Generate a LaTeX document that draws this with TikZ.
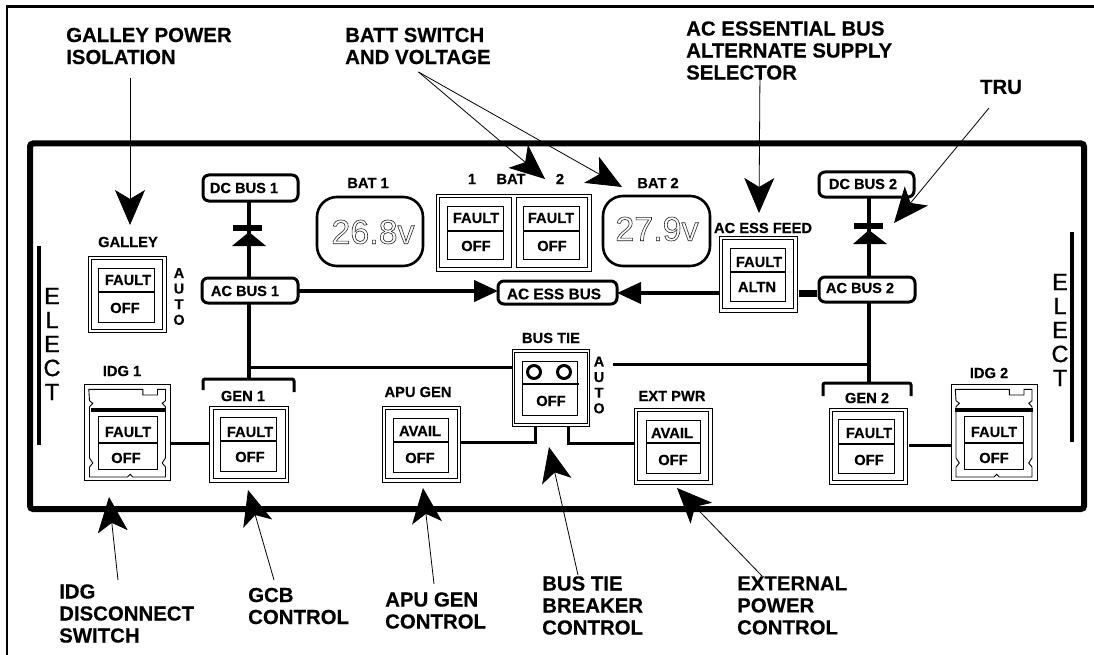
\documentclass[tikz,border=0pt]{standalone}
\usepackage{fontspec}
\setmainfont[BoldFeatures={FakeBold=0.35}]{Liberation Sans}
\newfontfamily\elfont[FakeBold=1]{Liberation Sans}
\usetikzlibrary{arrows.meta}
\newcommand{\fs}[2]{\fontsize{#1}{#2}\selectfont}
\newcommand{\outlinetext}[1]{\special{pdf:code q 1 Tr 0.6 w}#1\special{pdf:code Q}}
% \bx[style]{name}{x0}{y0}{x1}{y1}
\newcommand{\bx}[6][thinbox]{%
  \pgfmathsetmacro{\bxw}{#5-#3}\pgfmathsetmacro{\bxh}{#6-#4}%
  \pgfmathsetmacro{\bxcx}{(#3+#5)/2}\pgfmathsetmacro{\bxcy}{(#4+#6)/2}%
  \node[#1,minimum width=\bxw pt,minimum height=\bxh pt] (#2) at (\bxcx,\bxcy) {};}
\newcommand{\idgshape}[1]{%
  \draw[linesw,shift={(#1,0)}] (4.3,389.3) -- (58.3,389.3) -- (58.3,395) -- (73,395) -- (73,389.3) -- (81,389.3) -- (81,400.7) -- (77.7,403.3) -- (81,406.7) -- (81,458) -- (77.7,463) -- (81,467) -- (81,477) -- (48.3,477) -- (45.7,474.3) -- (43,477) -- (5,477) -- (5,467) -- (8.3,463) -- (5,458) -- (5,406.7) -- (8.3,403.3) -- (5,400.7) -- cycle;}
\tikzset{
  thinbox/.style={draw,rectangle,line width=0.9pt,inner sep=0pt,outer sep=0pt},
  linesw/.style={line width=0.9pt},
  bus/.style={draw,rectangle,rounded corners=6pt,line width=3pt,inner sep=0pt,outer sep=0pt,fill=white},
  disp/.style={draw,rectangle,rounded corners=20pt,line width=2.6pt,inner sep=0pt,outer sep=0pt},
  lbl/.style={font=\bfseries\fs{14.7}{16},inner sep=0pt},
  buslbl/.style={font=\bfseries\fs{14.6}{16},inner sep=0pt},
  note/.style={font=\bfseries\fs{20.4}{22},align=left,anchor=west,inner sep=0pt},
  vert/.style={align=center,inner sep=0pt},
  wire/.style={line width=3.6pt},
  wirethin/.style={line width=3pt},
  leader/.style={line width=0.8pt,-{Stealth[length=35pt,width=30pt,inset=9pt]}},
  busarrow/.style={line width=4pt,-{Triangle[length=24pt,width=21pt]}},
  dval/.style={font=\fs{34}{35},text=black!85,inner sep=0pt},
}
\begin{document}
\begin{tikzpicture}[x=1pt,y=-1pt]
\useasboundingbox (0,0) rectangle (1094,655);
\fill[white] (0,0) rectangle (1094,655);
% page border + panel
\draw[line width=2.6pt] (7,655) -- (7,6.5) -- (1094,6.5);
\draw[line width=6pt,rounded corners=3pt] (30,143.5) rectangle (1084,509);
% ELECT
\draw[line width=3.5pt] (39,246) coordinate (la) -- (39,445) coordinate (lb);
\draw[line width=3.5pt] (1072,232) coordinate (ra) -- (1072,442) coordinate (rb);
\node[vert,font=\elfont\fs{23.5}{24}] (electl) at (52,344) {E\\L\\E\\C\\T};
\node[vert,font=\elfont\fs{23.5}{24}] (electr) at (1060,330) {E\\L\\E\\C\\T};
% wire guides
\coordinate (vl) at (249,300);
\coordinate (vr) at (869,300);
% buses
\bx[bus]{dcbus1}{203}{175}{298}{201}
\bx[bus]{acbus1}{202}{278}{298}{303}
\bx[bus]{dcbus2}{819}{172}{914}{197}
\bx[bus]{acbus2}{819}{277}{915}{302}
\bx[bus]{acess}{498}{281}{617}{304}
\node[buslbl] (tdc1) at (244,188) {DC BUS 1};
\node[buslbl] (tac1) at (245,291) {AC BUS 1};
\node[buslbl] (tdc2) at (863,184) {DC BUS 2};
\node[buslbl] (tac2) at (860,288) {AC BUS 2};
\node[font=\bfseries\fs{15.4}{16},inner sep=0pt] (tess) at (554,294) {AC ESS BUS};
% switches -----------------------------------------------
% GALLEY
\bx{galo}{88}{256}{166}{332}\bx{gali}{91}{259}{162}{329}\bx{gall}{98}{268}{154}{322}
\draw[line width=1.4pt] (98,292) -- (155,292);
\node[lbl] (tgal) at (128,242) {GALLEY};
\node[lbl] at (128,280) {FAULT};
\node[lbl] at (125,308) {OFF};
\node[vert,font=\bfseries\fs{14.4}{15.6}] (agal) at (179,296.5) {A\\U\\T\\O};
% IDG 1
\bx{idgao}{84.5}{384}{170}{480}\idgshape{84.5}
\draw[line width=3.4pt] (91,410) -- (165,410);
\bx{idgal}{98}{416}{157}{469}
\draw[line width=1.4pt] (98,443) -- (157,443);
\node[lbl] (tidg1) at (122,371) {IDG 1};
\node[lbl] at (128,432) {FAULT};
\node[lbl] at (126,458) {OFF};
% GEN 1
\bx{genao}{209}{406}{288}{482}\bx{genai}{213}{409}{285}{478}\bx{genal}{220.5}{417}{276}{471}
\draw[line width=1.4pt] (220.5,441) -- (277,441);
\node[lbl] (tgen1) at (243,396) {GEN 1};
\node[lbl] at (250,432) {FAULT};
\node[lbl] at (250,457) {OFF};
% APU GEN
\bx{apuo}{382}{406}{460}{482}\bx{apui}{385}{409}{457}{478}\bx{apul}{393}{418}{448}{472}
\draw[line width=1.4pt] (393,442) -- (449,442);
\node[lbl] (tapu) at (418,392) {APU GEN};
\node[lbl] at (420,431) {AVAIL};
\node[lbl] at (420,458) {OFF};
% BUS TIE
\bx{tieo}{512}{349}{589}{426}\bx{tiei}{514.5}{352}{587}{423}\bx{tiel}{522}{361}{577}{415}
\draw[line width=1.4pt] (522,384) -- (579,384);
\node[draw,circle,line width=3pt,minimum size=13pt,inner sep=0pt] (ca) at (534,372) {};
\node[draw,circle,line width=3pt,minimum size=13pt,inner sep=0pt] (cb) at (564,372) {};
\node[lbl] (ttie) at (551,338) {BUS TIE};
\node[lbl] at (551,401) {OFF};
\node[vert,font=\bfseries\fs{14.4}{15.6}] (atie) at (599,385) {A\\U\\T\\O};
% EXT PWR
\bx{exto}{634}{408}{712}{484}\bx{exti}{637}{411}{708}{480}\bx{extl}{646}{420}{700}{473}
\draw[line width=1.4pt] (646,443) -- (701,443);
\node[lbl] (text) at (672,396) {EXT PWR};
\node[lbl] at (672,433) {AVAIL};
\node[lbl] at (673,460) {OFF};
% GEN 2
\bx{genbo}{829}{408}{907}{484}\bx{genbi}{832}{411}{903}{480}\bx{genbl}{838}{419}{894}{473}
\draw[line width=1.4pt] (838,444) -- (895,444);
\node[lbl] (tgen2) at (867,398) {GEN 2};
\node[lbl] at (869,433) {FAULT};
\node[lbl] at (869,460) {OFF};
% IDG 2
\bx{idgbo}{951}{384}{1037}{480}\idgshape{951}
\draw[line width=3.4pt] (955,410) -- (1033,410);
\bx{idgbl}{964}{416}{1023}{469}
\draw[line width=1.4pt] (964,443) -- (1023,443);
\node[lbl] (tidg2) at (989,373) {IDG 2};
\node[lbl] at (994,432) {FAULT};
\node[lbl] at (994,458) {OFF};
% AC ESS FEED
\bx{feedo}{719}{236}{797}{312}\bx{feedi}{722}{239}{793}{308}\bx{feedl}{730}{248}{785}{301}
\draw[line width=1.4pt] (730,272) -- (786,272);
\node[lbl] (tfeed) at (763,228) {AC ESS FEED};
\node[lbl] at (759,262) {FAULT};
\node[lbl] at (757,287) {ALTN};
% BAT
\bx{bato}{436}{194}{591}{271}\bx{batl}{439}{197}{511}{267}\bx{batr}{516}{197}{587}{267}
\bx{batll}{447}{206}{503}{259}\bx{batrl}{523}{206}{579}{259}
\draw[line width=1.4pt] (447,231) -- (503,231);
\draw[line width=1.4pt] (523,231) -- (579,231);
\node[lbl] at (476,218) {FAULT};
\node[lbl] at (476,246) {OFF};
\node[lbl] at (551,218) {FAULT};
\node[lbl] at (552,246) {OFF};
\node[lbl] (t1) at (472,179) {1};
\node[lbl] (tbat) at (511,179) {BAT};
\node[lbl] (t2) at (560,179) {2};
% displays
\bx[disp]{d1}{317}{197}{423}{266}
\bx[disp]{d2}{603}{196}{710}{266}
\node[lbl] (tb1) at (368,183) {BAT 1};
\node[lbl] (tb2) at (658,183) {BAT 2};
\node[dval] (v1) at (373,232) {\outlinetext{26.8v}};
\node[dval] (v2) at (657,229) {\outlinetext{27.9v}};
% wiring
\draw[wire] (vl |- dcbus1.south) -- (vl |- acbus1.north);
\draw[wire] (vl |- acbus1.south) -- (249,379) coordinate (bl);
\draw[wire] (vr |- dcbus2.south) -- (vr |- acbus2.north);
\draw[wire] (vr |- acbus2.south) -- (869,383) coordinate (br);
\draw[wirethin,rounded corners=2pt] (203,390) -- (203,379) -- (294,379) -- (294,392);
\draw[wirethin,rounded corners=2pt] (823,396) -- (823,383) -- (911,383) -- (911,396);
\draw[wirethin] (249,367) -- (tieo.west |- 249,367);
\draw[wirethin] (613,364) coordinate (rs) -- (vr |- rs);
\draw[wirethin] (idgao.east |- 0,443) -- (genao.west |- 0,443);
\draw[wirethin] (909,445) coordinate (gl) -- (idgbo.west |- gl);
\draw[wirethin] (535,426) coordinate (tl) -- (535,442) -- (apuo.east |- 0,442);
\draw[wirethin] (568,426) coordinate (tr) -- (568,443) -- (exto.west |- 0,443);
\draw[busarrow] (acbus1.east |- tac1) -- (498,291) coordinate (essw);
\draw[busarrow] (feedo.west |- 0,293) -- (617,293) coordinate (esse);
\draw[line width=7pt] (799,293) coordinate (lka) -- (817,293) coordinate (lkb);
% diodes
\fill (233,225) rectangle (262,231);
\fill (249,232) -- (266,246) -- (232,246) -- cycle;
\fill (854,223) rectangle (883,229);
\fill (869,230) -- (887,244) -- (853,244) -- cycle;
% notes
\node[note] (ngal) at (66,46) {GALLEY POWER\\ISOLATION};
\node[note] (nbat) at (345,46) {BATT SWITCH\\AND VOLTAGE};
\node[note] (nacs) at (686,50.5) {AC ESSENTIAL BUS\\ALTERNATE SUPPLY\\SELECTOR};
\node[note,anchor=center] (ntru) at (1001,87) {TRU};
\node[note] (nidg) at (59,613.5) {IDG\\DISCONNECT\\SWITCH};
\node[note] (ngcb) at (248,606) {GCB\\CONTROL};
\node[note] (napu) at (385,610.5) {APU GEN\\CONTROL};
\node[note] (ntie) at (542,605.5) {BUS TIE\\BREAKER\\CONTROL};
\node[note] (nex) at (737,605.5) {EXTERNAL\\POWER\\CONTROL};
% leaders
\coordinate (sa) at (130,78);   \coordinate (ta) at (130,225);
\coordinate (sb) at (418.5,72); \coordinate (tb1a) at (545,179); \coordinate (tb2a) at (622,187);
\coordinate (sc) at (760,70);   \coordinate (tc) at (759,213);
\coordinate (sd) at (989,108);  \coordinate (td) at (894,223);
\coordinate (se) at (118,580);  \coordinate (te) at (109,497);
\coordinate (sf) at (274,580);  \coordinate (tf) at (248,490);
\coordinate (sg) at (434,584);  \coordinate (tg) at (423,488);
\coordinate (sh) at (578,575);  \coordinate (th) at (549,447);
\coordinate (si) at (762,576);  \coordinate (ti) at (677,488);
\draw[leader] (sa) -- (ta);
\draw[leader] (sb) -- (tb1a);
\draw[leader] (sb) -- (tb2a);
\draw[leader] (sc) -- (tc);
\draw[leader] (sd) -- (td);
\draw[leader] (se) -- (te);
\draw[leader] (sf) -- (tf);
\draw[leader] (sg) -- (tg);
\draw[leader] (sh) -- (th);
\draw[leader] (si) -- (ti);
\end{tikzpicture}
\end{document}
